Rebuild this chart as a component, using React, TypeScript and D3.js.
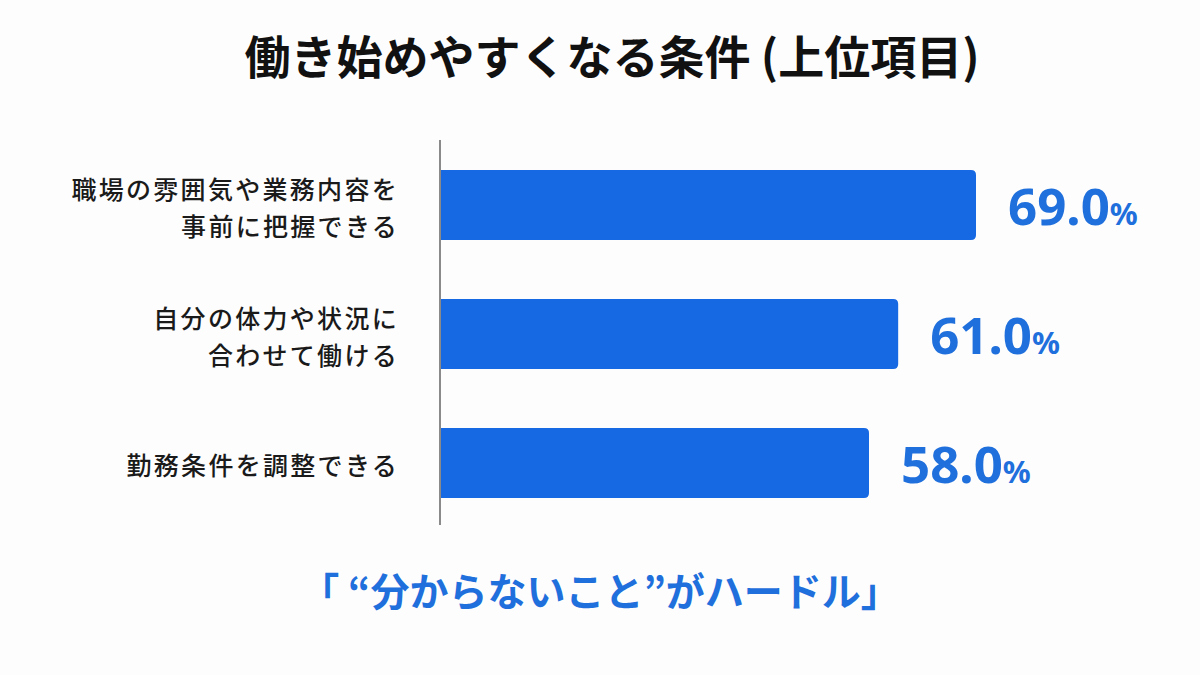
import React, { useEffect, useRef } from "react";
import * as d3 from "d3";

const categories = [
  "職場の雰囲気や業務内容を\n事前に把握できる",
  "自分の体力や状況に\n合わせて働ける",
  "勤務条件を調整できる",
];
const values = [69.0, 61.0, 58.0];
const titleText = "働き始めやすくなる条件 (上位項目)";
const footerText = "「 “分からないこと”がハードル」";

const W = 1200;
const H = 675;
const BLUE = "#1769e3";
const JP = "'Noto Sans CJK JP', 'Noto Sans', sans-serif";
const NUM = "'Noto Sans', 'Noto Sans CJK JP', sans-serif";

export default function App() {
  const ref = useRef<SVGSVGElement | null>(null);

  useEffect(() => {
    const svg = d3.select(ref.current);
    svg.selectAll("*").remove();

    svg.append("rect").attr("width", W).attr("height", H).attr("fill", "#fdfdfd");

    svg
      .append("text")
      .attr("x", 612)
      .attr("y", 74)
      .attr("text-anchor", "middle")
      .attr("font-family", JP)
      .attr("font-weight", 700)
      .attr("font-size", 46)
      .attr("fill", "#111")
      .text(titleText);

    const x = d3.scaleLinear().domain([14, 69]).range([441, 976]);
    const y = d3
      .scaleBand<string>()
      .domain(categories)
      .range([140, 528])
      .paddingInner(0.457)
      .paddingOuter(0.233);

    svg
      .append("line")
      .attr("x1", 440)
      .attr("x2", 440)
      .attr("y1", 140)
      .attr("y2", 525)
      .attr("stroke", "#8a8a8a")
      .attr("stroke-width", 2);

    const g = svg.append("g");
    const bw = y.bandwidth();
    const r = 5;

    categories.forEach((c, i) => {
      const x0 = 441;
      const x1 = x(values[i]);
      const y0 = y(c)!;
      const p = d3.path();
      p.moveTo(x0, y0);
      p.lineTo(x1 - r, y0);
      p.quadraticCurveTo(x1, y0, x1, y0 + r);
      p.lineTo(x1, y0 + bw - r);
      p.quadraticCurveTo(x1, y0 + bw, x1 - r, y0 + bw);
      p.lineTo(x0, y0 + bw);
      p.closePath();
      g.append("path").attr("d", p.toString()).attr("fill", BLUE);

      const t = g
        .append("text")
        .attr("x", x1 + 32)
        .attr("y", y0 + bw / 2 + 20)
        .attr("font-family", NUM)
        .attr("font-weight", 700)
        .attr("fill", "#1f6fdc");
      t.append("tspan").attr("font-size", 51).text(values[i].toFixed(1));
      t.append("tspan").attr("font-size", 31).text("%");

      const lines = c.split("\n");
      const lh = 37;
      const cy = y0 + bw / 2 + 3;
      const lt = g
        .append("text")
        .attr("font-family", JP)
        .attr("font-size", 25)
        .attr("font-weight", 500)
        .attr("letter-spacing", 2.3)
        .attr("text-anchor", "end")
        .attr("fill", "#1a1a1a");
      lines.forEach((ln, k) => {
        lt.append("tspan")
          .attr("x", 399)
          .attr("y", cy + (k - (lines.length - 1) / 2) * lh + 9.5)
          .text(ln);
      });
    });

    svg
      .append("text")
      .attr("x", 600)
      .attr("y", 606)
      .attr("text-anchor", "middle")
      .attr("font-family", JP)
      .attr("font-weight", 700)
      .attr("font-size", 39)
      .attr("fill", "#1f6fdc")
      .text(footerText);
  }, []);

  return (
    <svg
      ref={ref}
      width={W}
      height={H}
      style={{ position: "absolute", left: 0, top: 0, display: "block" }}
    />
  );
}
